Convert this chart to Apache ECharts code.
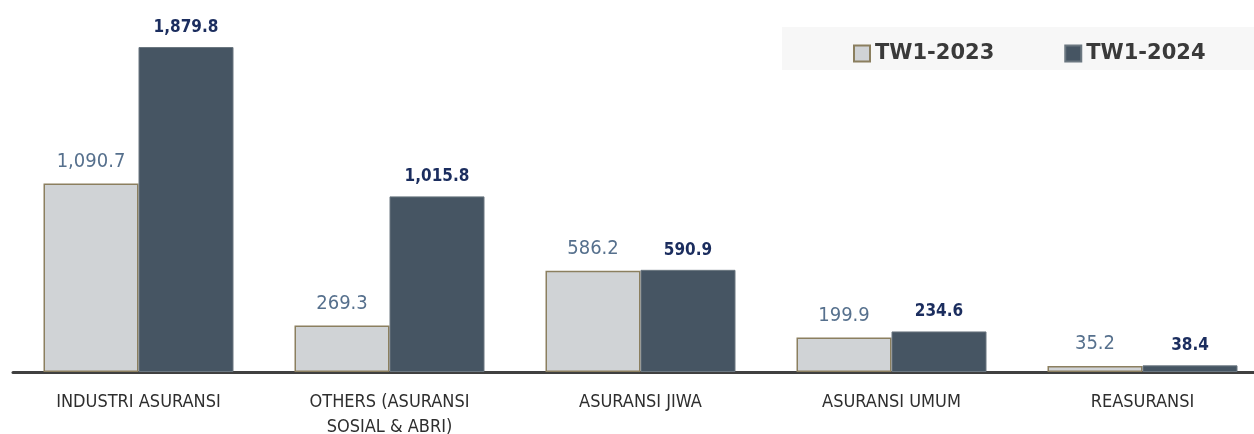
<!DOCTYPE html>
<html>
<head>
<meta charset="utf-8">
<script src="https://cdn.jsdelivr.net/npm/echarts@6/dist/echarts.min.js"></script>
<style>
  html, body { margin: 0; padding: 0; background: #fff; }
  #chart { width: 1254px; height: 434px; }
</style>
</head>
<body>
<div id="chart"></div>
<script>
// data
const categories = [
  "INDUSTRI ASURANSI",
  "OTHERS (ASURANSI\nSOSIAL & ABRI)",
  "ASURANSI JIWA",
  "ASURANSI UMUM",
  "REASURANSI"
];
const tw2023 = [1090.7, 269.3, 586.2, 199.9, 35.2];
const tw2024 = [1879.8, 1015.8, 590.9, 234.6, 38.4];

const myChart = echarts.init(document.getElementById("chart"));

function fmt(p) {
  return p.value.toLocaleString("en-US", { minimumFractionDigits: 1, maximumFractionDigits: 1 });
}

const option = {
  animation: false,
  textStyle: { fontFamily: "Liberation Sans Narrow, DejaVu Sans Condensed, sans-serif" },
  graphic: [
    {
      type: "rect",
      left: 782, top: 27, z: -1,
      shape: { width: 472, height: 43 },
      style: { fill: "#f7f7f7" }
    }
  ],
  legend: {
    left: 848,
    top: 38,
    itemWidth: 16,
    itemHeight: 16,
    itemGap: 70,
    icon: "rect",
    textStyle: {
      fontFamily: "DejaVu Sans, sans-serif",
      fontWeight: "bold",
      fontSize: 21,
      color: "#3a3a3a"
    },
    data: ["TW1-2023", "TW1-2024"]
  },
  grid: {
    left: 13,
    width: 1255,
    top: 20,
    bottom: 62,
    containLabel: false,
    outerBoundsMode: "none"
  },
  xAxis: {
    type: "category",
    data: categories,
    axisTick: { show: false },
    axisLine: { lineStyle: { color: "#404040", width: 3 } },
    axisLabel: {
      color: "#2e2e2e",
      fontSize: 18,
      margin: 18,
      lineHeight: 25,
      fontFamily: "Liberation Sans Narrow, DejaVu Sans Condensed, sans-serif"
    }
  },
  yAxis: {
    type: "value",
    min: 0,
    max: 2036,
    show: false,
    splitLine: { show: false }
  },
  series: [
    {
      name: "TW1-2023",
      type: "bar",
      data: tw2023,
      barWidth: 95,
      barGap: "0%",
      itemStyle: { color: "#d0d3d6", borderColor: "#8b7f5f", borderWidth: 1.5 },
      label: {
        show: true,
        position: "top",
        distance: 12,
        formatter: fmt,
        color: "#56708d",
        fontSize: 20,
        fontFamily: "DejaVu Sans Condensed, Liberation Sans Narrow, sans-serif"
      }
    },
    {
      name: "TW1-2024",
      type: "bar",
      data: tw2024,
      barWidth: 95,
      itemStyle: { color: "#465563", borderColor: "#6b7780", borderWidth: 1 },
      label: {
        show: true,
        position: "top",
        distance: 11,
        formatter: fmt,
        color: "#1b2d5e",
        fontWeight: "bold",
        fontSize: 17,
        fontFamily: "DejaVu Sans Condensed, Liberation Sans Narrow, sans-serif"
      }
    }
  ]
};

myChart.setOption(option);
window.addEventListener("resize", () => {
  myChart.resize();
});
</script>
</body>
</html>
